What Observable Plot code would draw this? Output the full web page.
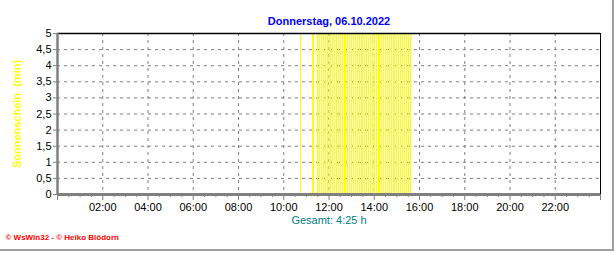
<!DOCTYPE html>
<html>
<head>
<meta charset="utf-8">
<script src="https://cdn.jsdelivr.net/npm/d3@7"></script>
<script src="https://cdn.jsdelivr.net/npm/@observablehq/plot@0.6"></script>
<style>
  html, body { margin: 0; padding: 0; background: white; }
  #wrap { position: relative; width: 616px; height: 253px; }
  #border { position: absolute; left: 0; top: 0; width: 612px; height: 249px;
            border-right: 2px solid #a0a0a0; border-bottom: 2px solid #a0a0a0; pointer-events: none; }
</style>
</head>
<body>
<div id="wrap"><div id="border"></div></div>
<script>
// ---- data ----
const titleText = "Donnerstag, 06.10.2022";
const yAxisTitle = "Sonnenschein\u00a0\u00a0(min)";
const totalText = "Gesamt: 4:25 h";
const footerText = "\u00a9 WsWin32 - \u00a9 Heiko Blödorn";

// start times of 5-minute intervals with sunshine
const sunTimes = [
  "10:45",
  "11:15","11:20","11:30","11:35","11:40","11:45","11:50","11:55",
  "12:00","12:05","12:10","12:15","12:20","12:25","12:30","12:35","12:40","12:45","12:50","12:55",
  "13:00","13:05","13:10","13:15","13:20","13:25","13:30","13:35","13:40","13:45","13:50","13:55",
  "14:00","14:05","14:10","14:15","14:20","14:25","14:30","14:35","14:40","14:45","14:50","14:55",
  "15:00","15:05","15:10","15:15","15:20","15:25","15:30","15:35"
];
// sunshine minutes in each interval
const sunMinutes = [
  5,
  5,5,5,5,5,5,5,5,
  5,5,5,5,5,5,5,5,5,5,5,5,
  5,5,5,5,5,5,5,5,5,5,5,5,
  5,5,5,5,5,5,5,5,5,5,5,5,
  5,5,5,5,5,5,5,5
];

const hourLabels = ["02:00","04:00","06:00","08:00","10:00","12:00","14:00","16:00","18:00","20:00","22:00"];
const majorTickTimes = ["00:00","02:00","04:00","06:00","08:00","10:00","12:00","14:00","16:00","18:00","20:00","22:00","24:00"];
const minorTickTimes = ["00:30","01:00","01:30","02:30","03:00","03:30","04:30","05:00","05:30","06:30","07:00","07:30",
  "08:30","09:00","09:30","10:30","11:00","11:30","12:30","13:00","13:30","14:30","15:00","15:30",
  "16:30","17:00","17:30","18:30","19:00","19:30","20:30","21:00","21:30","22:30","23:00","23:30"];
const yTicks = [0, 0.5, 1, 1.5, 2, 2.5, 3, 3.5, 4, 4.5, 5];
const yLabels = ["0","0,5","1","1,5","2","2,5","3","3,5","4","4,5","5"];

// ---- build ----
const toMin = s => { const [h, m] = s.split(":").map(Number); return h * 60 + m; };
const bars = sunTimes.map((t, i) => ({t: toMin(t), v: sunMinutes[i]}));
const majors = majorTickTimes.map(toMin);
const labelPos = hourLabels.map(toMin);
const minors = minorTickTimes.map(toMin);

const chart = Plot.plot({
  width: 616,
  height: 253,
  marginLeft: 57,
  marginRight: 16,
  marginTop: 33,
  marginBottom: 59,
  style: {fontFamily: "'Liberation Sans', Arial, sans-serif", fontSize: "11px", background: "transparent", color: "black"},
  x: {domain: [0, 1440], axis: null},
  y: {domain: [0, 5], axis: null},
  marks: [
    Plot.gridY(yTicks.slice(1, -1), {stroke: "#808080", strokeOpacity: 1, strokeDasharray: "3,4"}),
    Plot.gridX(labelPos, {stroke: "#808080", strokeOpacity: 1, strokeDasharray: "3,4"}),
    Plot.ruleX(bars, {x: "t", y1: 0, y2: "v", stroke: "#ffff00", strokeWidth: 1, shapeRendering: "crispEdges"}),
    Plot.ruleY([5], {stroke: "black", strokeWidth: 1.5}),
    Plot.ruleX([1440], {stroke: "black", strokeWidth: 1}),
    Plot.ruleY([0], {stroke: "#808080", strokeWidth: 3}),
    Plot.ruleX([0], {stroke: "#808080", strokeWidth: 2.5}),
    Plot.axisY(yTicks, {tickSize: 4, tickPadding: 2, tickFormat: (d, i) => yLabels[i], label: null, stroke: "#808080", fill: "black", fontSize: 11}),
    Plot.axisX(minors, {tickSize: 3, tickFormat: () => "", label: null, stroke: "#808080"}),
    Plot.axisX(majors, {tickSize: 6, tickFormat: () => "", label: null, stroke: "#808080"}),
    Plot.axisX(labelPos, {tickSize: 0, tickPadding: 9, tickFormat: (d, i) => hourLabels[i], label: null, fill: "black", fontSize: 11}),
    Plot.text([titleText], {frameAnchor: "top", dy: -16, fill: "#0000ff", fontWeight: "bold", fontSize: 11}),
    Plot.text([totalText], {frameAnchor: "bottom", dy: 29, fill: "#008080", fontSize: 11}),
    Plot.text([footerText], {frameAnchor: "bottom-left", dx: -52, dy: 45, textAnchor: "start", fill: "#ff0000", fontWeight: "bold", fontSize: 8}),
    Plot.text([yAxisTitle], {frameAnchor: "left", dx: -40, rotate: -90, textAnchor: "middle", fill: "#ffff00", fontWeight: "bold", fontSize: 11})
  ]
});
document.getElementById("wrap").prepend(chart);
chart.style.position = "absolute";
chart.style.left = "0";
chart.style.top = "0";
</script>
</body>
</html>
